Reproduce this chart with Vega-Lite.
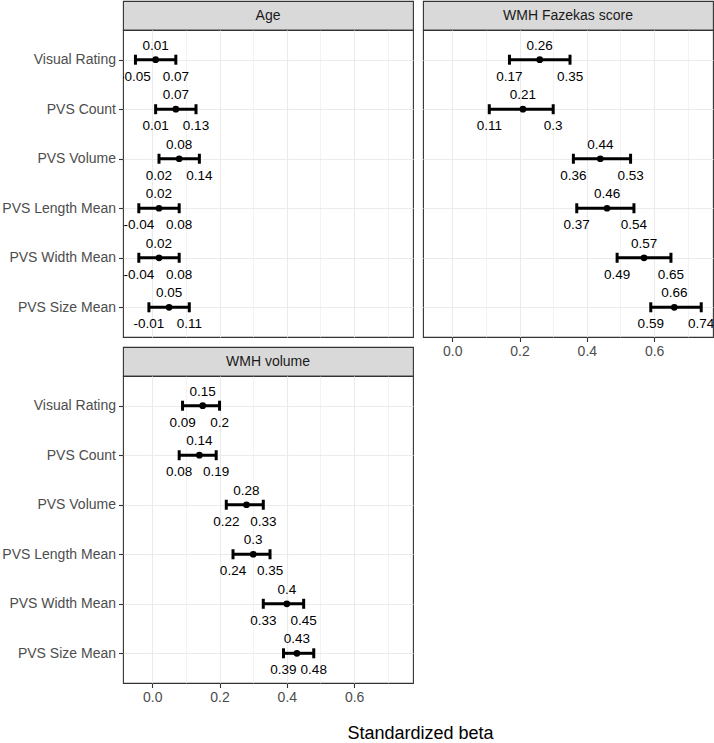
{
  "$schema": "https://vega.github.io/schema/vega-lite/v6.json",
  "padding": {"left": 1, "top": 0, "right": 0, "bottom": 0},
  "background": "white",
  "title": {"text": "Standardized beta", "orient": "bottom", "anchor": "middle", "frame": "bounds", "fontSize": 18, "fontWeight": "normal", "color": "black", "offset": 20, "dx": 63},
  "datasets": {
    "rows": [
      {"panel": "Age", "term": "Visual Rating", "est": 0.01, "lo": -0.05, "hi": 0.07},
      {"panel": "Age", "term": "PVS Count", "est": 0.07, "lo": 0.01, "hi": 0.13},
      {"panel": "Age", "term": "PVS Volume", "est": 0.08, "lo": 0.02, "hi": 0.14},
      {"panel": "Age", "term": "PVS Length Mean", "est": 0.02, "lo": -0.04, "hi": 0.08},
      {"panel": "Age", "term": "PVS Width Mean", "est": 0.02, "lo": -0.04, "hi": 0.08},
      {"panel": "Age", "term": "PVS Size Mean", "est": 0.05, "lo": -0.01, "hi": 0.11},
      {"panel": "WMH Fazekas score", "term": "Visual Rating", "est": 0.26, "lo": 0.17, "hi": 0.35},
      {"panel": "WMH Fazekas score", "term": "PVS Count", "est": 0.21, "lo": 0.11, "hi": 0.3},
      {"panel": "WMH Fazekas score", "term": "PVS Volume", "est": 0.44, "lo": 0.36, "hi": 0.53},
      {"panel": "WMH Fazekas score", "term": "PVS Length Mean", "est": 0.46, "lo": 0.37, "hi": 0.54},
      {"panel": "WMH Fazekas score", "term": "PVS Width Mean", "est": 0.57, "lo": 0.49, "hi": 0.65},
      {"panel": "WMH Fazekas score", "term": "PVS Size Mean", "est": 0.66, "lo": 0.59, "hi": 0.74},
      {"panel": "WMH volume", "term": "Visual Rating", "est": 0.15, "lo": 0.09, "hi": 0.2},
      {"panel": "WMH volume", "term": "PVS Count", "est": 0.14, "lo": 0.08, "hi": 0.19},
      {"panel": "WMH volume", "term": "PVS Volume", "est": 0.28, "lo": 0.22, "hi": 0.33},
      {"panel": "WMH volume", "term": "PVS Length Mean", "est": 0.3, "lo": 0.24, "hi": 0.35},
      {"panel": "WMH volume", "term": "PVS Width Mean", "est": 0.4, "lo": 0.33, "hi": 0.45},
      {"panel": "WMH volume", "term": "PVS Size Mean", "est": 0.43, "lo": 0.39, "hi": 0.48}
    ]
  },
  "columns": 2,
  "spacing": {"row": 0, "column": 10},
  "bounds": "flush",
  "concat": [
    {
      "width": 290, "height": 29,
      "data": {"values": [{"panel": "Age"}]},
      "view": {"fill": "#d9d9d9", "stroke": "#333333", "strokeWidth": 1.1},
      "mark": {"type": "text", "fontSize": 14, "color": "#1a1a1a"},
      "encoding": {"text": {"field": "panel", "type": "nominal"}}
    },
    {
      "width": 290, "height": 29,
      "data": {"values": [{"panel": "WMH Fazekas score"}]},
      "view": {"fill": "#d9d9d9", "stroke": "#333333", "strokeWidth": 1.1},
      "mark": {"type": "text", "fontSize": 14, "color": "#1a1a1a"},
      "encoding": {"text": {"field": "panel", "type": "nominal"}}
    },
    {
      "width": 290, "height": 307,
      "data": {"name": "rows"},
      "transform": [{"filter": "datum.panel === 'Age'"}],
      "encoding": {
        "y": {"field": "term", "type": "nominal", "title": null,
          "sort": ["Visual Rating", "PVS Count", "PVS Volume", "PVS Length Mean", "PVS Width Mean", "PVS Size Mean"],
          "scale": {"type": "point", "padding": 0.6},
          "axis": {"grid": true, "gridColor": "#ebebeb", "gridWidth": 1.1, "domain": false, "ticks": true, "tickSize": 4.5, "tickColor": "#333333", "tickWidth": 1.1, "labelPadding": 3, "labelFontSize": 14, "labelColor": "#4d4d4d", "labelFont": "Liberation Sans"}}
      },
      "layer": [
        {
          "mark": {"type": "rule", "color": "black", "strokeWidth": 3},
          "encoding": {
            "x": {"field": "lo", "type": "quantitative", "title": null,
              "scale": {"domain": [-0.087, 0.775], "nice": false, "zero": false},
              "axis": {"values": [0, 0.1, 0.2, 0.3, 0.4, 0.5, 0.6, 0.7], "grid": true, "gridColor": "#ebebeb",
                "gridWidth": {"condition": {"test": "indexof([0, 0.2, 0.4, 0.6], datum.value) >= 0", "value": 1.1}, "value": 0.6},
                "domain": false, "ticks": false, "labels": false}},
            "x2": {"field": "hi"}
          }
        },
        {"mark": {"type": "tick", "color": "black", "thickness": 3, "size": 10, "opacity": 1}, "encoding": {"x": {"field": "lo", "type": "quantitative", "title": null}}},
        {"mark": {"type": "tick", "color": "black", "thickness": 3, "size": 10, "opacity": 1}, "encoding": {"x": {"field": "hi", "type": "quantitative", "title": null}}},
        {"mark": {"type": "point", "filled": true, "color": "black", "opacity": 1, "size": 45}, "encoding": {"x": {"field": "est", "type": "quantitative", "title": null}}},
        {"mark": {"type": "text", "fontSize": 13.5, "color": "black", "baseline": "alphabetic", "dy": -10, "clip": true}, "encoding": {"x": {"field": "est", "type": "quantitative", "title": null}, "text": {"field": "est", "type": "nominal"}}},
        {"mark": {"type": "text", "fontSize": 13.5, "color": "black", "baseline": "alphabetic", "dy": 21, "clip": true}, "encoding": {"x": {"field": "lo", "type": "quantitative", "title": null}, "text": {"field": "lo", "type": "nominal"}}},
        {"mark": {"type": "text", "fontSize": 13.5, "color": "black", "baseline": "alphabetic", "dy": 21, "clip": true}, "encoding": {"x": {"field": "hi", "type": "quantitative", "title": null}, "text": {"field": "hi", "type": "nominal"}}}
      ]
    },
    {
      "width": 290, "height": 307,
      "data": {"name": "rows"},
      "transform": [{"filter": "datum.panel === 'WMH Fazekas score'"}],
      "encoding": {
        "y": {"field": "term", "type": "nominal", "title": null,
          "sort": ["Visual Rating", "PVS Count", "PVS Volume", "PVS Length Mean", "PVS Width Mean", "PVS Size Mean"],
          "scale": {"type": "point", "padding": 0.6},
          "axis": {"grid": true, "gridColor": "#ebebeb", "gridWidth": 1.1, "domain": false, "ticks": false, "labels": false}}
      },
      "layer": [
        {
          "mark": {"type": "rule", "color": "black", "strokeWidth": 3},
          "encoding": {
            "x": {"field": "lo", "type": "quantitative", "title": null,
              "scale": {"domain": [-0.087, 0.775], "nice": false, "zero": false},
              "axis": {"values": [0, 0.1, 0.2, 0.3, 0.4, 0.5, 0.6, 0.7], "grid": true, "gridColor": "#ebebeb",
                "gridWidth": {"condition": {"test": "indexof([0, 0.2, 0.4, 0.6], datum.value) >= 0", "value": 1.1}, "value": 0.6},
                "tickOpacity": {"condition": {"test": "indexof([0, 0.2, 0.4, 0.6], datum.value) >= 0", "value": 1}, "value": 0},
                "labelExpr": "indexof([0, 0.2, 0.4, 0.6], datum.value) >= 0 ? format(datum.value, '.1f') : ''",
                "domain": false, "ticks": true, "tickSize": 4.5, "tickColor": "#333333", "tickWidth": 1.1, "labelPadding": 3, "labelFontSize": 14, "labelColor": "#4d4d4d", "labelFont": "Liberation Sans", "labelFlush": false}},
            "x2": {"field": "hi"}
          }
        },
        {"mark": {"type": "tick", "color": "black", "thickness": 3, "size": 10, "opacity": 1}, "encoding": {"x": {"field": "lo", "type": "quantitative", "title": null}}},
        {"mark": {"type": "tick", "color": "black", "thickness": 3, "size": 10, "opacity": 1}, "encoding": {"x": {"field": "hi", "type": "quantitative", "title": null}}},
        {"mark": {"type": "point", "filled": true, "color": "black", "opacity": 1, "size": 45}, "encoding": {"x": {"field": "est", "type": "quantitative", "title": null}}},
        {"mark": {"type": "text", "fontSize": 13.5, "color": "black", "baseline": "alphabetic", "dy": -10, "clip": true}, "encoding": {"x": {"field": "est", "type": "quantitative", "title": null}, "text": {"field": "est", "type": "nominal"}}},
        {"mark": {"type": "text", "fontSize": 13.5, "color": "black", "baseline": "alphabetic", "dy": 21, "clip": true}, "encoding": {"x": {"field": "lo", "type": "quantitative", "title": null}, "text": {"field": "lo", "type": "nominal"}}},
        {"mark": {"type": "text", "fontSize": 13.5, "color": "black", "baseline": "alphabetic", "dy": 21, "clip": true}, "encoding": {"x": {"field": "hi", "type": "quantitative", "title": null}, "text": {"field": "hi", "type": "nominal"}}}
      ]
    },
    {
      "width": 290, "height": 10,
      "data": {"values": [{}]},
      "view": {"stroke": null},
      "mark": "text",
      "encoding": {"text": {"value": ""}}
    },
    {
      "width": 290, "height": 10,
      "data": {"values": [{}]},
      "view": {"stroke": null},
      "mark": "text",
      "encoding": {"text": {"value": ""}}
    },
    {
      "width": 290, "height": 29,
      "data": {"values": [{"panel": "WMH volume"}]},
      "view": {"fill": "#d9d9d9", "stroke": "#333333", "strokeWidth": 1.1},
      "mark": {"type": "text", "fontSize": 14, "color": "#1a1a1a"},
      "encoding": {"text": {"field": "panel", "type": "nominal"}}
    },
    {
      "width": 290, "height": 10,
      "data": {"values": [{}]},
      "view": {"stroke": null},
      "mark": "text",
      "encoding": {"text": {"value": ""}}
    },
    {
      "width": 290, "height": 307,
      "data": {"name": "rows"},
      "transform": [{"filter": "datum.panel === 'WMH volume'"}],
      "encoding": {
        "y": {"field": "term", "type": "nominal", "title": null,
          "sort": ["Visual Rating", "PVS Count", "PVS Volume", "PVS Length Mean", "PVS Width Mean", "PVS Size Mean"],
          "scale": {"type": "point", "padding": 0.6},
          "axis": {"grid": true, "gridColor": "#ebebeb", "gridWidth": 1.1, "domain": false, "ticks": true, "tickSize": 4.5, "tickColor": "#333333", "tickWidth": 1.1, "labelPadding": 3, "labelFontSize": 14, "labelColor": "#4d4d4d", "labelFont": "Liberation Sans"}}
      },
      "layer": [
        {
          "mark": {"type": "rule", "color": "black", "strokeWidth": 3},
          "encoding": {
            "x": {"field": "lo", "type": "quantitative", "title": null,
              "scale": {"domain": [-0.087, 0.775], "nice": false, "zero": false},
              "axis": {"values": [0, 0.1, 0.2, 0.3, 0.4, 0.5, 0.6, 0.7], "grid": true, "gridColor": "#ebebeb",
                "gridWidth": {"condition": {"test": "indexof([0, 0.2, 0.4, 0.6], datum.value) >= 0", "value": 1.1}, "value": 0.6},
                "tickOpacity": {"condition": {"test": "indexof([0, 0.2, 0.4, 0.6], datum.value) >= 0", "value": 1}, "value": 0},
                "labelExpr": "indexof([0, 0.2, 0.4, 0.6], datum.value) >= 0 ? format(datum.value, '.1f') : ''",
                "domain": false, "ticks": true, "tickSize": 4.5, "tickColor": "#333333", "tickWidth": 1.1, "labelPadding": 3, "labelFontSize": 14, "labelColor": "#4d4d4d", "labelFont": "Liberation Sans", "labelFlush": false}},
            "x2": {"field": "hi"}
          }
        },
        {"mark": {"type": "tick", "color": "black", "thickness": 3, "size": 10, "opacity": 1}, "encoding": {"x": {"field": "lo", "type": "quantitative", "title": null}}},
        {"mark": {"type": "tick", "color": "black", "thickness": 3, "size": 10, "opacity": 1}, "encoding": {"x": {"field": "hi", "type": "quantitative", "title": null}}},
        {"mark": {"type": "point", "filled": true, "color": "black", "opacity": 1, "size": 45}, "encoding": {"x": {"field": "est", "type": "quantitative", "title": null}}},
        {"mark": {"type": "text", "fontSize": 13.5, "color": "black", "baseline": "alphabetic", "dy": -10, "clip": true}, "encoding": {"x": {"field": "est", "type": "quantitative", "title": null}, "text": {"field": "est", "type": "nominal"}}},
        {"mark": {"type": "text", "fontSize": 13.5, "color": "black", "baseline": "alphabetic", "dy": 21, "clip": true}, "encoding": {"x": {"field": "lo", "type": "quantitative", "title": null}, "text": {"field": "lo", "type": "nominal"}}},
        {"mark": {"type": "text", "fontSize": 13.5, "color": "black", "baseline": "alphabetic", "dy": 21, "clip": true}, "encoding": {"x": {"field": "hi", "type": "quantitative", "title": null}, "text": {"field": "hi", "type": "nominal"}}}
      ]
    },
    {
      "width": 290, "height": 10,
      "data": {"values": [{}]},
      "view": {"stroke": null},
      "mark": "text",
      "encoding": {"text": {"value": ""}}
    }
  ],
  "config": {
    "font": "Liberation Sans",
    "view": {"stroke": "#333333", "strokeWidth": 1.1},
    "axis": {"domain": false}
  }
}
